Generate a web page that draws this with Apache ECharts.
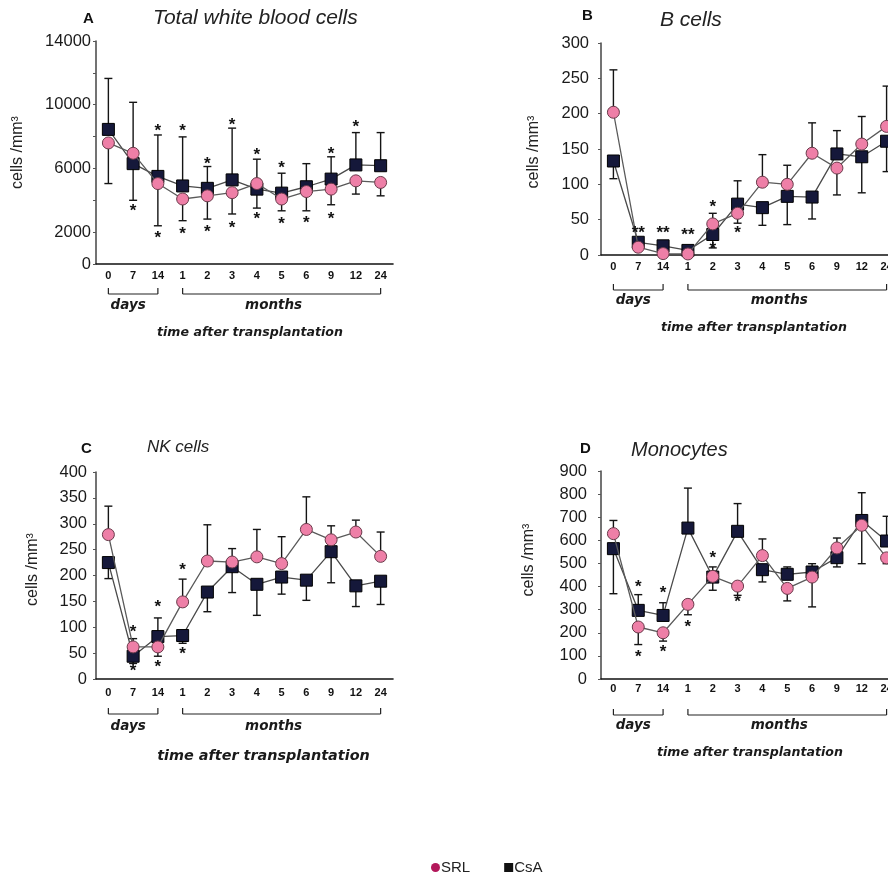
<!DOCTYPE html>
<html>
<head>
<meta charset="utf-8">
<script src="https://cdn.jsdelivr.net/npm/echarts@6/dist/echarts.min.js"></script>
<style>
  html, body { margin: 0; padding: 0; background: #fff; overflow: hidden; }
  #chart { width: 910px; height: 878px; }
</style>
</head>
<body>
<div id="chart"></div>
<script>
// Time points after transplantation: 3 in days, 9 in months
const categories = ['0', '7', '14', '1', '2', '3', '4', '5', '6', '9', '12', '24'];
const bracketSpans = [[0, 2], [3, 11]];
const bracketLabels = ['days', 'months'];

// A: total white blood cells (cells/mm3)
const srlA = [7600, 6950, 5050, 4080, 4280, 4480, 5050, 4080, 4550, 4700, 5220, 5120];
const csaA = [8450, 6300, 5500, 4900, 4750, 5280, 4700, 4450, 4850, 5330, 6220, 6170];
const srlHiA = [null, null, null, null, null, null, null, null, null, null, null, null];
const srlLoA = [5050, 4000, 2400, 2720, 2820, 3140, 3510, 3340, 3340, 3720, 4390, 4280];
const csaHiA = [11650, 10150, 8100, 7980, 6120, 8530, 6580, 5700, 6300, 6730, 8250, 8250];
const csaLoA = [null, null, null, null, null, null, null, null, null, null, null, null];
const starsA = [[2, 8570, 1], [3, 8570, 1], [4, 6480, 1], [5, 8950, 1], [6, 7060, 1], [7, 6270, 1],
                [9, 7150, 1], [10, 8820, 1], [1, 3550, 1], [2, 1880, 1], [3, 2090, 1], [4, 2260, 1],
                [5, 2470, 1], [6, 3030, 1], [7, 2720, 1], [8, 2780, 1], [9, 3070, 1]];
const yTicksA = [0, 2000, 6000, 10000, 14000];

// B: B cells
const srlB = [202, 11, 2, 1.5, 44, 59, 103, 100, 144, 123, 157, 182];
const csaB = [133, 18, 13, 6.5, 29, 72, 67, 83, 82, 143, 139, 161];
const srlHiB = [262, null, null, null, 59, null, 142, 127, 187, null, 196, 239];
const srlLoB = [null, null, null, null, null, 45, null, null, null, 85, null, null];
const csaHiB = [null, null, null, null, null, 105, null, null, null, 176, null, null];
const csaLoB = [108, null, null, null, 10, null, 42, 43, 51, null, 88, 118];
const starsB = [[1, 36, 2], [2, 36, 2], [2.75, 33, 2], [4, 73, 1], [4.2, 14, 1], [5, 36, 1]];
const yTicksB = [0, 50, 100, 150, 200, 250, 300];

// C: NK cells
const srlC = [279, 62, 62, 149, 228, 226, 236, 223, 289, 269, 284, 237];
const csaC = [225, 44, 82, 84, 168, 217, 183, 197, 191, 246, 180, 189];
const srlHiC = [334, 78, null, 193, 298, 252, 289, 275, 352, 296, 307, 284];
const srlLoC = [null, null, 44, null, null, null, null, null, null, null, null, null];
const csaHiC = [null, null, 118, null, null, null, null, null, null, null, null, null];
const csaLoC = [194, 30, null, 69, 130, 167, 123, 164, 152, 186, 140, 144];
const starsC = [[1, 98, 1], [1, 22, 1], [2, 146, 1], [2, 30, 1], [3, 218, 1], [3, 56, 1]];
const yTicksC = [0, 50, 100, 150, 200, 250, 300, 350, 400];

// D: monocytes
const srlD = [629, 225, 200, 323, 444, 402, 534, 392, 441, 567, 665, 524];
const csaD = [564, 297, 275, 653, 441, 639, 473, 453, 463, 525, 686, 597];
const srlHiD = [686, null, null, null, null, null, 606, null, null, 610, null, null];
const srlLoD = [null, 149, 164, 278, null, 362, null, 338, 312, null, 499, 499];
const csaHiD = [null, 365, 330, 826, 485, 759, null, 485, 499, null, 806, 704];
const csaLoD = [369, null, null, null, 384, null, 420, null, null, 485, null, null];
const starsD = [[1, 413, 1], [1, 112, 1], [2, 387, 1], [2, 131, 1], [3, 242, 1], [4, 538, 1], [5, 348, 1]];
const yTicksD = [0, 100, 200, 300, 400, 500, 600, 700, 800, 900];

const FONT = '"Liberation Sans", Arial, sans-serif';
const WIDE = '"DejaVu Sans", Verdana, sans-serif';

// Layout of the four panels (pixel boxes and text offsets)
const panels = [
  { letter: 'A', title: 'Total white blood cells', srl: srlA, csa: csaA, srlHi: srlHiA, srlLo: srlLoA, csaHi: csaHiA, csaLo: csaLoA,
    stars: starsA, ticks: yTicksA, max: 14000, interval: 2000,
    grid: { left: 96, top: 41, width: 297, height: 223 }, labelMargin: 5, nameGap: 70, namePad: 0, xMargin: 6,
    bracketOff: 30, bracketText: 41, timeGap: 62, timeSize: 12.6, timeShift: 11,
    letterPos: [83, 11], titlePos: [153, 8], titleSize: 21 },
  { letter: 'B', title: 'B cells', srl: srlB, csa: csaB, srlHi: srlHiB, srlLo: srlLoB, csaHi: csaHiB, csaLo: csaLoB,
    stars: starsB, ticks: yTicksB, max: 300, interval: 50,
    grid: { left: 601, top: 43, width: 298, height: 212 }, labelMargin: 12, nameGap: 59, namePad: -6, xMargin: 6,
    bracketOff: 35, bracketText: 45, timeGap: 66, timeSize: 12.6, timeShift: 8,
    letterPos: [582, 8], titlePos: [660, 10], titleSize: 21 },
  { letter: 'C', title: 'NK cells', srl: srlC, csa: csaC, srlHi: srlHiC, srlLo: srlLoC, csaHi: csaHiC, csaLo: csaLoC,
    stars: starsC, ticks: yTicksC, max: 400, interval: 50,
    grid: { left: 96, top: 472, width: 297, height: 207 }, labelMargin: 9, nameGap: 55, namePad: 12, xMargin: 8,
    bracketOff: 35, bracketText: 47, timeGap: 70, timeSize: 14.4, timeShift: 38,
    letterPos: [81, 441], titlePos: [147, 439], titleSize: 17 },
  { letter: 'D', title: 'Monocytes', srl: srlD, csa: csaD, srlHi: srlHiD, srlLo: srlLoD, csaHi: csaHiD, csaLo: csaLoD,
    stars: starsD, ticks: yTicksD, max: 900, interval: 100,
    grid: { left: 601, top: 471, width: 298, height: 208 }, labelMargin: 14, nameGap: 64, namePad: 30, xMargin: 4,
    bracketOff: 36, bracketText: 46, timeGap: 67, timeSize: 12.6, timeShift: 0,
    letterPos: [580, 441], titlePos: [631, 440], titleSize: 20 }
];

function errorData(means, ends) {
  const out = [];
  ends.forEach((v, i) => { if (v !== null) out.push([i, means[i], v]); });
  return out;
}

function renderError(params, api) {
  const p0 = api.coord([api.value(0), api.value(1)]);
  const p1 = api.coord([api.value(0), api.value(2)]);
  const st = { stroke: '#141414', lineWidth: 1.4 };
  return {
    type: 'group',
    children: [
      { type: 'line', shape: { x1: p0[0], y1: p0[1], x2: p1[0], y2: p1[1] }, style: st },
      { type: 'line', shape: { x1: p1[0] - 4, y1: p1[1], x2: p1[0] + 4, y2: p1[1] }, style: st }
    ]
  };
}

function renderStar(params, api) {
  const p = api.coord([api.value(0), api.value(1)]);
  return {
    type: 'text',
    x: p[0], y: p[1] + 4,
    style: {
      text: '*'.repeat(api.value(2)),
      font: 'bold 17px ' + FONT,
      fill: '#111',
      align: 'center',
      verticalAlign: 'middle'
    }
  };
}

function makeBracketRenderer(pan) {
  return function (params, api) {
    const a = api.coord([api.value(0), 0]);
    const b = api.coord([api.value(1), 0]);
    const y = a[1] + pan.bracketOff;
    const st = { stroke: '#222', lineWidth: 1.2 };
    const shift = params.dataIndex === 0 ? -5 : -8;
    return {
      type: 'group',
      children: [
        { type: 'line', shape: { x1: a[0], y1: y, x2: b[0], y2: y }, style: st },
        { type: 'line', shape: { x1: a[0], y1: y, x2: a[0], y2: y - 6 }, style: st },
        { type: 'line', shape: { x1: b[0], y1: y, x2: b[0], y2: y - 6 }, style: st },
        { type: 'text', x: (a[0] + b[0]) / 2 + shift, y: a[1] + pan.bracketText,
          style: { text: bracketLabels[params.dataIndex], font: 'italic bold 13.5px ' + WIDE,
                   fill: '#1a1a1a', align: 'center', verticalAlign: 'middle' } }
      ]
    };
  };
}

const grids = [], xAxes = [], yAxes = [], series = [], titles = [];

panels.forEach((pan, k) => {
  grids.push(Object.assign({ containLabel: false }, pan.grid));
  xAxes.push({
    type: 'category', gridIndex: k, data: categories, boundaryGap: true,
    name: 'time after transplantation', nameLocation: 'middle', nameGap: pan.timeGap,
    nameTextStyle: { fontFamily: WIDE, fontStyle: 'italic', fontWeight: 'bold', fontSize: pan.timeSize,
                     color: '#1a1a1a', padding: [0, 0, 0, pan.timeShift] },
    axisLine: { lineStyle: { color: '#111', width: 1.6 } },
    axisTick: { alignWithLabel: true, length: 4, lineStyle: { color: '#777', width: 1.5 } },
    axisLabel: { margin: pan.xMargin, fontFamily: FONT, fontWeight: 'bold', fontSize: 11, color: '#111', interval: 0 },
    splitLine: { show: false }
  });
  yAxes.push({
    type: 'value', gridIndex: k, min: 0, max: pan.max, interval: pan.interval,
    name: 'cells /mm³', nameLocation: 'middle', nameGap: pan.nameGap, nameRotate: 90,
    nameTextStyle: { fontFamily: FONT, fontSize: 16, color: '#222', padding: [0, 0, 0, pan.namePad] },
    axisLine: { show: true, lineStyle: { color: '#444', width: 1.5 } },
    axisTick: { show: true, length: 3, lineStyle: { color: '#555' } },
    axisLabel: { margin: pan.labelMargin, fontFamily: FONT, fontSize: 16.5, color: '#1a1a1a',
                 formatter: v => (pan.ticks.indexOf(v) >= 0 ? String(v) : '') },
    splitLine: { show: false }
  });

  const errs = [].concat(errorData(pan.srl, pan.srlHi), errorData(pan.srl, pan.srlLo),
                         errorData(pan.csa, pan.csaHi), errorData(pan.csa, pan.csaLo));
  series.push({
    type: 'custom', xAxisIndex: k, yAxisIndex: k, renderItem: renderError, data: errs, z: 1,
    encode: { x: 0, y: [1, 2] }, silent: true
  });
  series.push({
    name: 'CsA', type: 'line', xAxisIndex: k, yAxisIndex: k, data: pan.csa, z: 2,
    symbol: 'rect', symbolSize: 12,
    itemStyle: { color: '#15183a', borderColor: '#000', borderWidth: 1 },
    lineStyle: { color: '#4a4a4a', width: 1.3 }
  });
  series.push({
    name: 'SRL', type: 'line', xAxisIndex: k, yAxisIndex: k, data: pan.srl, z: 3,
    symbol: 'circle', symbolSize: 12,
    itemStyle: { color: '#ee7fa7', borderColor: '#6a3a4a', borderWidth: 1 },
    lineStyle: { color: '#5a5a5a', width: 1.3 }
  });
  series.push({
    type: 'custom', xAxisIndex: k, yAxisIndex: k, renderItem: renderStar, data: pan.stars, z: 4,
    encode: { x: 0, y: 1 }, silent: true
  });
  series.push({
    type: 'custom', xAxisIndex: k, yAxisIndex: k, renderItem: makeBracketRenderer(pan), data: bracketSpans,
    z: 4, clip: false, encode: { x: [0, 1] }, silent: true
  });

  titles.push({ text: pan.letter, left: pan.letterPos[0], top: pan.letterPos[1], padding: 0,
                textStyle: { fontFamily: FONT, fontWeight: 'bold', fontSize: 15, color: '#111' } });
  titles.push({ text: pan.title, left: pan.titlePos[0], top: pan.titlePos[1], padding: 0,
                textStyle: { fontFamily: FONT, fontStyle: 'italic', fontWeight: 'normal', fontSize: pan.titleSize, color: '#222' } });
});

const chart = echarts.init(document.getElementById('chart'), null, { renderer: 'canvas' });
chart.setOption({
  backgroundColor: '#ffffff',
  animation: false,
  title: titles,
  grid: grids,
  xAxis: xAxes,
  yAxis: yAxes,
  legend: {
    left: 431, top: 860, itemGap: 34, itemWidth: 9, itemHeight: 9, padding: 0,
    textStyle: { fontFamily: FONT, fontSize: 15, color: '#222', padding: [0, 0, 0, -4] },
    data: [
      { name: 'SRL', icon: 'circle', itemStyle: { color: '#b3175a', borderWidth: 0 } },
      { name: 'CsA', icon: 'rect', itemStyle: { color: '#111', borderWidth: 0 } }
    ]
  },
  series: series
});
</script>
</body>
</html>
